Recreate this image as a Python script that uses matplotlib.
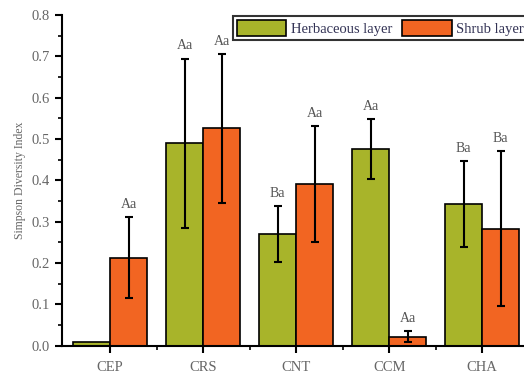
import matplotlib.pyplot as plt
import numpy as np

sites = ['CEP', 'CRS', 'CNT', 'CCM', 'CHA']
herb = [0.009, 0.490, 0.270, 0.476, 0.343]
herb_err = [0.0, 0.205, 0.068, 0.073, 0.103]
shrub = [0.213, 0.526, 0.392, 0.022, 0.283]
shrub_err = [0.098, 0.180, 0.140, 0.014, 0.187]
herb_lbl = ['', 'Aa', 'Ba', 'Aa', 'Ba']
shrub_lbl = ['Aa', 'Aa', 'Aa', 'Aa', 'Ba']

plt.rcParams['font.family'] = ['Liberation Serif', 'DejaVu Serif']

fig = plt.figure(figsize=(5.24, 3.78), dpi=100)
ax = fig.add_axes([0.118, 0.0855, 0.882, 0.8745])

x = np.arange(len(sites))
w = 0.4
c_herb = '#A8B42A'
c_shrub = '#F26522'
ek = dict(ecolor='black', elinewidth=1.5, capsize=3, capthick=1.5)

b1 = ax.bar(x - w/2, herb, w, color=c_herb, edgecolor='black', linewidth=1.2,
            label='Herbaceous layer')
b2 = ax.bar(x + w/2, shrub, w, color=c_shrub, edgecolor='black', linewidth=1.2,
            label='Shrub layer')
ax.errorbar(x[1:] - w/2, herb[1:], yerr=herb_err[1:], fmt='none', **ek)
ax.errorbar(x + w/2, shrub, yerr=shrub_err, fmt='none', **ek)

for i in range(len(sites)):
    if herb_lbl[i]:
        ax.text(x[i] - w/2, herb[i] + herb_err[i] + 0.015, herb_lbl[i],
                ha='center', va='bottom', fontsize=10, color='#555555')
    ax.text(x[i] + w/2, shrub[i] + shrub_err[i] + 0.015, shrub_lbl[i],
            ha='center', va='bottom', fontsize=10, color='#555555')

ax.set_xlim(-0.52, 4.45)
ax.set_ylim(0, 0.8)
ax.set_xticks(x)
ax.set_xticklabels(sites)
ax.set_xticks(x[:-1] + 0.5, minor=True)
ax.set_yticks(np.arange(0, 0.81, 0.1))
ax.set_yticklabels(['%.1f' % v for v in np.arange(0, 0.81, 0.1)])
ax.set_yticks(np.arange(0.05, 0.8, 0.1), minor=True)
ax.tick_params(axis='both', which='major', direction='out', length=5, width=1.5,
               labelsize=10.5, labelcolor='#666666')
ax.tick_params(axis='x', which='major', pad=6)
ax.tick_params(axis='both', which='minor', direction='out', length=3, width=1.2)
ax.set_ylabel('Simpson Diversity Index', fontsize=8.5, color='#666666', labelpad=4)

for s in ['top', 'right']:
    ax.spines[s].set_visible(False)
for s in ['left', 'bottom']:
    ax.spines[s].set_linewidth(1.5)

leg = fig.legend(handles=[b1, b2], loc='upper left', bbox_to_anchor=(0.445, 0.958),
                 ncol=2, fontsize=10.5, frameon=True, fancybox=False,
                 edgecolor='black', handlelength=3.4, handleheight=1.35,
                 borderpad=0.25, borderaxespad=0, columnspacing=0.7, handletextpad=0.3)
leg.get_frame().set_linewidth(1.5)
for t in leg.get_texts():
    t.set_color('#333355')

fig.savefig('out.png', dpi=100)
